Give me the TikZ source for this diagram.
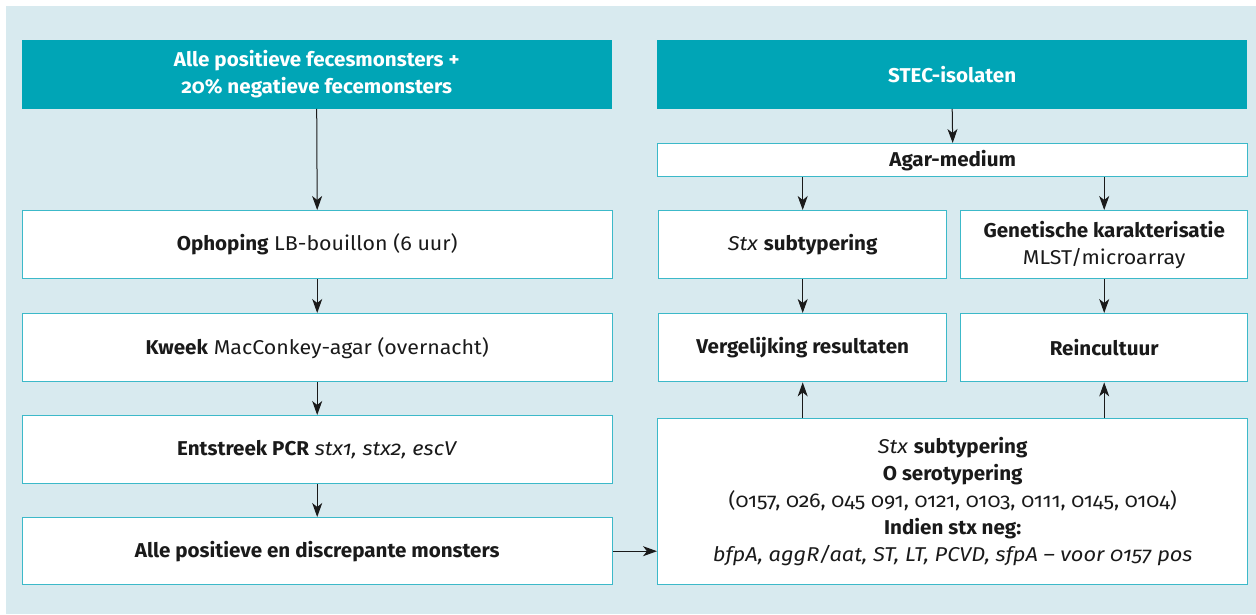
\documentclass[tikz,border=0pt]{standalone}
\usepackage{fontspec}
\setmainfont{Fira Sans}[Numbers=OldStyle, UprightFeatures={FakeStretch=1.07}, ItalicFeatures={FakeStretch=1.09}, BoldFeatures={FakeStretch=1.03}]
\usetikzlibrary{arrows.meta}
\definecolor{bg}{HTML}{D8EAEF}
\definecolor{headfill}{HTML}{00A5B6}
\definecolor{edge}{HTML}{3CB9C9}
\definecolor{ink}{HTML}{1A1A1A}
\begin{document}
\begin{tikzpicture}[x=1pt,y=-1pt,
  every node/.style={font=\fontsize{20}{27}\selectfont, text=ink},
  box/.style={draw=edge, line width=1.4pt, fill=white, anchor=north west, inner sep=0pt, align=center},
  head/.style={fill=headfill, anchor=north west, inner sep=0pt, align=center, text=white, font=\fontsize{20}{27}\selectfont\bfseries},
  conn/.style={draw=ink, line width=1pt, -{Stealth[length=14pt,width=10pt,inset=4pt]}}]
\useasboundingbox (0,0) rectangle (1256,614);
\fill[bg] (6,6) rectangle (1256,614);
% left column
\node[head, minimum width=590pt, minimum height=68.5pt] (h1) at (21.5,40) {Alle positieve fecesmonsters +\\20\% negatieve fecemonsters};
\node[box, minimum width=590pt, minimum height=68pt] (b1) at (21.5,210) {\textbf{Ophoping} LB-bouillon (6 uur)};
\node[box, minimum width=590pt, minimum height=68pt] (b2) at (21.5,313) {\textbf{Kweek} MacConkey-agar (overnacht)};
\node[box, minimum width=590pt, minimum height=68pt] (b3) at (21.5,415) {\textbf{Entstreek PCR} \textit{stx1, stx2, escV}};
\node[box, minimum width=590pt, minimum height=67pt] (b4) at (21.5,517) {\textbf{Alle positieve en discrepante monsters}};
% right column
\node[head, minimum width=590pt, minimum height=68.5pt] (h2) at (657,40) {STEC-isolaten};
\node[box, minimum width=590pt, minimum height=33pt] (agar) at (657,143) {\textbf{Agar-medium}};
\node[box, minimum width=288pt, minimum height=68pt] (stx) at (658,210) {\textit{Stx} \textbf{subtypering}};
\node[box, minimum width=287pt, minimum height=68pt] (gen) at (960,210) {\textbf{Genetische karakterisatie}\\MLST/microarray};
\node[box, minimum width=288pt, minimum height=68pt] (verg) at (658,313) {\textbf{Vergelijking resultaten}};
\node[box, minimum width=287pt, minimum height=68pt] (rein) at (960,313) {\textbf{Reincultuur}};
\node[box, minimum width=590pt, minimum height=166pt] (big) at (657,418) {\textit{Stx} \textbf{subtypering}\\\textbf{O serotypering}\\(0157, 026, 045 091, 0121, 0103, 0111, 0145, 0104)\\\textbf{Indien stx neg:}\\\textit{bfpA, aggR/aat, ST, LT, PCVD, sfpA – voor 0157 pos}};
% connectors
\draw[conn] (h1.south) -- (b1.north);
\draw[conn] (b1.south) -- (b2.north);
\draw[conn] (b2.south) -- (b3.north);
\draw[conn] (b3.south) -- (b4.north);
\draw[conn] (b4.east) -- (big.west |- b4.east);
\draw[conn] (h2.south) -- (agar.north);
\draw[conn] (agar.south -| stx.north) -- (stx.north);
\draw[conn] (agar.south -| gen.north) -- (gen.north);
\draw[conn] (stx.south) -- (verg.north);
\draw[conn] (gen.south) -- (rein.north);
\draw[conn] (big.north -| verg.south) -- (verg.south);
\draw[conn] (big.north -| rein.south) -- (rein.south);
\end{tikzpicture}
\end{document}
